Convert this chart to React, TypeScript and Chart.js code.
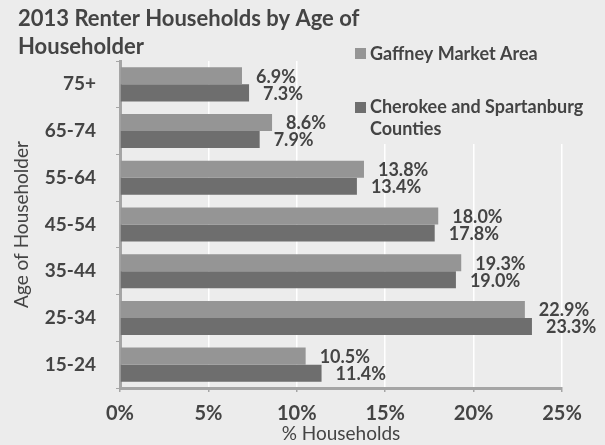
import React, { useEffect, useRef } from "react";
import { Chart, registerables } from "chart.js";

Chart.register(...registerables);

const categories = ["75+", "65-74", "55-64", "45-54", "35-44", "25-34", "15-24"];
const gaffney = [6.9, 8.6, 13.8, 18.0, 19.3, 22.9, 10.5];
const cherokee = [7.3, 7.9, 13.4, 17.8, 19.0, 23.3, 11.4];
const seriesNames = ["Gaffney Market Area", "Cherokee and Spartanburg Counties"];
const titleLines = ["2013 Renter Households by Age of", "Householder"];

const BG = "#ececec";
const TEXT = "#444444";
const C1 = "#959595";
const C2 = "#6e6e6e";
const FONT = "Lato, 'Open Sans', sans-serif";

const decorPlugin = {
  id: "decor",
  beforeDraw(chart: any) {
    const ctx = chart.ctx;
    ctx.save();
    ctx.fillStyle = BG;
    ctx.fillRect(0, 0, chart.width, chart.height);
    ctx.restore();
  },
  afterDatasetsDraw(chart: any) {
    const ctx = chart.ctx;
    ctx.save();
    // data labels
    ctx.font = `bold 18px ${FONT}`;
    ctx.fillStyle = TEXT;
    ctx.textAlign = "left";
    ctx.textBaseline = "middle";
    chart.data.datasets.forEach((ds: any, di: number) => {
      const meta = chart.getDatasetMeta(di);
      meta.data.forEach((el: any, i: number) => {
        const v = ds.data[i];
        ctx.fillText(v.toFixed(1) + "%", el.x + 14, el.y + 1);
      });
    });
    // legend box
    ctx.fillStyle = BG;
    ctx.fillRect(346, 32, 259, 112);
    ctx.fillStyle = C1;
    ctx.fillRect(355, 48, 11, 11);
    ctx.fillStyle = C2;
    ctx.fillRect(355, 102, 11, 11);
    ctx.font = `bold 18px ${FONT}`;
    ctx.fillStyle = TEXT;
    ctx.fillText(seriesNames[0], 370, 54);
    ctx.fillText("Cherokee and Spartanburg", 370, 107);
    ctx.fillText("Counties", 370, 129);
    // title
    ctx.font = `bold 22px ${FONT}`;
    ctx.fillStyle = TEXT;
    ctx.fillText(titleLines[0], 18, 19);
    ctx.fillText(titleLines[1], 18, 47);
    ctx.restore();
  },
};

export default function App() {
  const ref = useRef<HTMLCanvasElement>(null);
  useEffect(() => {
    document.body.style.margin = "0";
    const chart = new Chart(ref.current!, {
      type: "bar",
      data: {
        labels: categories,
        datasets: [
          { label: seriesNames[0], data: gaffney, backgroundColor: C1, borderWidth: 0, barPercentage: 1, categoryPercentage: 0.73 },
          { label: seriesNames[1], data: cherokee, backgroundColor: C2, borderWidth: 0, barPercentage: 1, categoryPercentage: 0.73 },
        ],
      },
      options: {
        indexAxis: "y",
        responsive: false,
        animation: false,
        layout: { padding: { top: 61, right: 43, left: 0, bottom: 0 } },
        plugins: { legend: { display: false }, tooltip: { enabled: false }, title: { display: false } },
        scales: {
          x: {
            min: 0,
            max: 25,
            ticks: { stepSize: 5, callback: (v: any) => v + "%", color: TEXT, font: { family: FONT, size: 20, weight: "bold" }, padding: 10 },
            grid: { color: "#ffffff", lineWidth: 1.5, drawTicks: true, tickLength: 4, tickColor: "#a5a5a5" },
            border: { color: "#a5a5a5", width: 3 },
            title: { display: true, text: "% Households", color: TEXT, font: { family: FONT, size: 19 }, padding: { top: -6, bottom: 0 } },
            afterFit: (s: any) => { s.height = 57; },
          },
          y: {
            ticks: { color: TEXT, font: { family: FONT, size: 19, weight: "bold" }, padding: 20 },
            grid: { drawOnChartArea: false, tickLength: 4, color: "#a5a5a5" },
            border: { color: "#a5a5a5", width: 3 },
            title: { display: true, text: "Age of Householder", color: TEXT, font: { family: FONT, size: 19 }, padding: { top: 10, bottom: 0 } },
            afterFit: (s: any) => { s.width = 120; },
          },
        },
      },
      plugins: [decorPlugin],
    });
    return () => chart.destroy();
  }, []);
  return <canvas ref={ref} width={605} height={445} style={{ display: "block" }} />;
}
